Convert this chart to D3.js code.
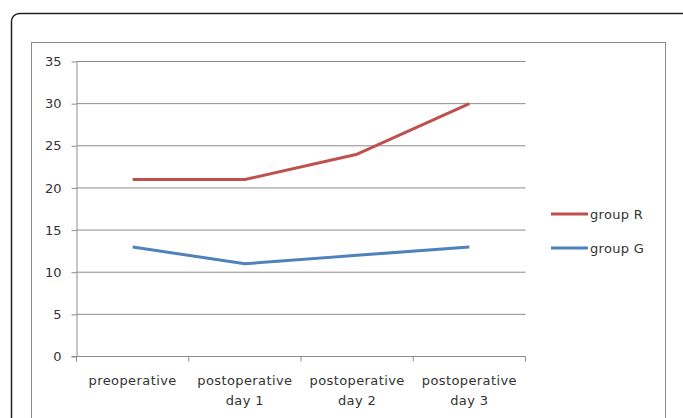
<!DOCTYPE html>
<html>
<head>
<meta charset="utf-8">
<script src="https://cdn.jsdelivr.net/npm/d3@7"></script>
<style>
  html, body { margin: 0; padding: 0; background: #fff; }
  svg { display: block; }
  text { font-family: "DejaVu Sans", Verdana, sans-serif; fill: #333; }
</style>
</head>
<body>
<svg id="chart" width="683" height="418"></svg>
<script>
// Time points and mean values per group
const categories = [["preoperative"], ["postoperative", "day 1"], ["postoperative", "day 2"], ["postoperative", "day 3"]];
const groupR = [21, 21, 24, 30];
const groupG = [13, 11, 12, 13];
const yTicks = [0, 5, 10, 15, 20, 25, 30, 35];
const seriesNames = ["group R", "group G"];
const seriesColors = ["#C0504D", "#4F81BD"];

const svg = d3.select("#chart");

// Outer rounded frame
svg.append("rect")
  .attr("x", 11.5).attr("y", 13.5)
  .attr("width", 680).attr("height", 420)
  .attr("rx", 8).attr("ry", 8)
  .attr("fill", "none").attr("stroke", "#222").attr("stroke-width", 1.5);

// Chart area frame
svg.append("rect")
  .attr("x", 31.5).attr("y", 42.5)
  .attr("width", 634).attr("height", 400)
  .attr("fill", "#fff").attr("stroke", "#8c8c8c").attr("stroke-width", 1);

const x = d3.scaleBand().domain(d3.range(categories.length)).range([76.5, 525.5]);
const y = d3.scaleLinear().domain([0, 35]).range([356.5, 61.5]);

// Horizontal gridlines
svg.append("g").selectAll("line").data(yTicks.filter(d => d > 0)).join("line")
  .attr("x1", 76.5).attr("x2", 525.5)
  .attr("y1", d => y(d)).attr("y2", d => y(d))
  .attr("stroke", "#8c8c8c").attr("stroke-width", 1);

// Y axis
const yAxis = svg.append("g").attr("transform", "translate(76.5,0)")
  .call(d3.axisLeft(y).tickValues(yTicks).tickSize(5).tickPadding(10).tickSizeOuter(0));
yAxis.select(".domain").attr("stroke", "#8c8c8c");
yAxis.selectAll(".tick line").attr("stroke", "#8c8c8c");
yAxis.selectAll(".tick text").attr("font-size", 13).attr("fill", "#333")
  .attr("font-family", "'DejaVu Sans', Verdana, sans-serif");

// X axis line with ticks at category boundaries
svg.append("line")
  .attr("x1", 71.5).attr("x2", 525.5).attr("y1", y(0)).attr("y2", y(0))
  .attr("stroke", "#8c8c8c");
const bounds = d3.range(categories.length + 1).map(i => i < categories.length ? x(i) : x(i - 1) + x.bandwidth());
svg.append("g").selectAll("line").data(bounds).join("line")
  .attr("x1", d => d).attr("x2", d => d)
  .attr("y1", y(0)).attr("y2", y(0) + 5)
  .attr("stroke", "#8c8c8c");

// Category labels
const labels = svg.append("g").selectAll("text").data(categories).join("text")
  .attr("x", (d, i) => x(i) + x.bandwidth() / 2)
  .attr("y", 385)
  .attr("text-anchor", "middle")
  .attr("font-size", 13)
  .attr("letter-spacing", 0.4);
labels.selectAll("tspan").data(d => d).join("tspan")
  .attr("x", function() { return this.parentNode.getAttribute("x"); })
  .attr("dy", (d, i) => i === 0 ? 0 : 20)
  .text(d => d);

// Series lines
const line = d3.line().x((d, i) => x(i) + x.bandwidth() / 2).y(d => y(d));
[groupR, groupG].forEach((vals, k) => {
  svg.append("path").datum(vals)
    .attr("d", line)
    .attr("fill", "none")
    .attr("stroke", seriesColors[k])
    .attr("stroke-width", 3)
    .attr("stroke-linejoin", "round");
});

// Legend
const legend = svg.append("g").selectAll("g").data(seriesNames).join("g")
  .attr("transform", (d, i) => `translate(551,${214 + i * 34})`);
legend.append("line")
  .attr("x1", 0).attr("x2", 37)
  .attr("stroke", (d, i) => seriesColors[i]).attr("stroke-width", 3);
legend.append("text")
  .attr("x", 39).attr("y", 4.5)
  .attr("font-size", 13)
  .attr("letter-spacing", 0.3)
  .text(d => d);
</script>
</body>
</html>
